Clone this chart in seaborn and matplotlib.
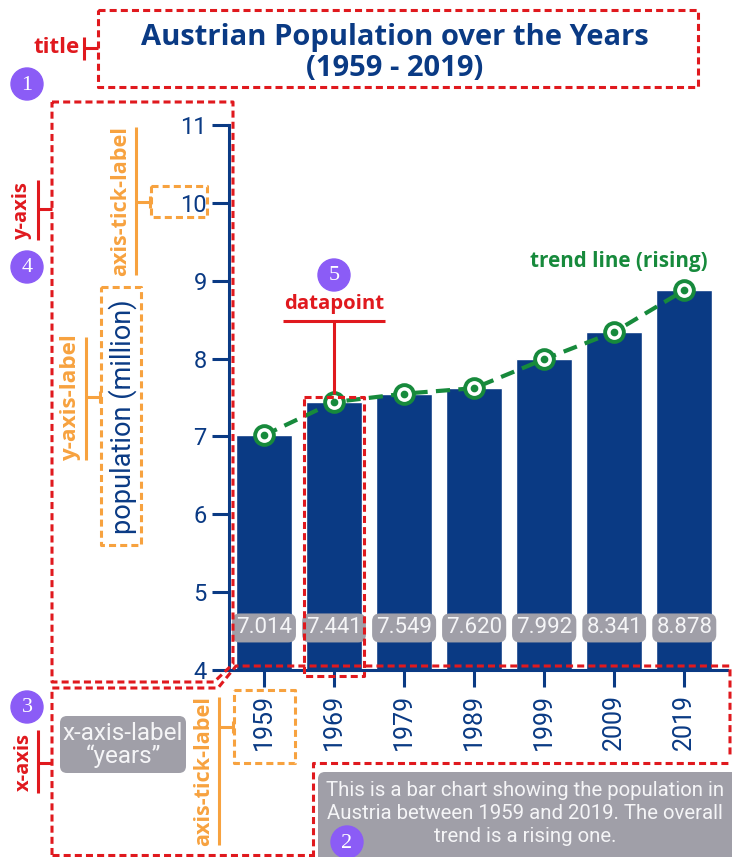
import numpy as np
import pandas as pd
import matplotlib
matplotlib.use("Agg")
import matplotlib.pyplot as plt
import seaborn as sns
from matplotlib.patches import FancyBboxPatch, Circle

# ---------------- data ----------------
years = ["1959", "1969", "1979", "1989", "1999", "2009", "2019"]
population = [7.014, 7.441, 7.549, 7.620, 7.992, 8.341, 8.878]
value_labels = ["7.014", "7.441", "7.549", "7.620", "7.992", "8.341", "8.878"]
y_ticks = [4, 5, 6, 7, 8, 9, 10, 11]

title = "Austrian Population over the Years\n(1959 - 2019)"
y_label = "population (million)"
x_label_box = "x-axis-label\n\u201cyears\u201d"
description_lines = ["This is a bar chart showing the population in",
                     "Austria between 1959 and 2019. The overall",
                     "trend is a rising one."]

NAVY = "#0a3a84"
RED = "#e0191e"
ORANGE = "#f7a23f"
GREEN = "#178a3c"
GRAY = "#a09fa8"
PURPLE = "#8b5cf6"
LIGHT = "#f5f5f7"
HEAD_FONT = ["Open Sans", "DejaVu Sans"]

sns.set_theme(style="white")
plt.rcParams['font.family'] = ['Roboto', 'DejaVu Sans']

W, H = 732, 857
fig = plt.figure(figsize=(W / 100, H / 100), dpi=100)
ax = fig.add_axes([229 / W, 1 - 670 / H, (727 - 229) / W, (670 - 125) / H])

df = pd.DataFrame({"year": years, "population": population})
sns.barplot(data=df, x="year", y="population", color=NAVY, saturation=1,
            width=0.8, ax=ax)
n0 = len(ax.lines)
sns.pointplot(data=df, x="year", y="population", color=GREEN, errorbar=None, ax=ax)
for ln in ax.lines[n0:]:
    ln.set_linewidth(3.0)
    ln.set_dashes([3.4, 2.0])
    ln.set_marker("o")
    ln.set_markersize(13.5)
    ln.set_markerfacecolor("white")
    ln.set_markeredgecolor(GREEN)
    ln.set_markeredgewidth(2.8)
    ln.set_zorder(4)
n1 = len(ax.lines)
sns.pointplot(data=df, x="year", y="population", color=GREEN, errorbar=None, ax=ax)
for ln in ax.lines[n1:]:
    ln.set_linestyle("None")
    ln.set_marker("o")
    ln.set_markersize(3.5)
    ln.set_zorder(5)

for i, lab in enumerate(value_labels):
    ax.text(i, 4.54, lab, ha="center", va="center", color=LIGHT, fontsize=16,
            bbox=dict(boxstyle="round,pad=0.18,rounding_size=0.35", fc=GRAY, ec="none"),
            zorder=6)

ax.set_ylim(4, 11)
ax.set_xlim(-0.5, 6.61)
ax.set_yticks(y_ticks)
sns.despine(ax=ax)
for s in ["left", "bottom"]:
    ax.spines[s].set_color(NAVY)
    ax.spines[s].set_linewidth(2.2)
ax.tick_params(axis="both", colors=NAVY, length=12, width=2.2, labelsize=17,
               direction="out", bottom=True, left=True, pad=4)
ax.tick_params(axis="x", labelrotation=90, labelsize=18, pad=5)
ax.set_xlabel("")
ax.set_ylabel(y_label, fontsize=19.5, color=NAVY)
ax.yaxis.set_label_coords(-0.185, 0.465)

fig.text(395 / W, 1 - 53 / H, title, ha="center", va="center", fontsize=21,
         fontweight="bold", color=NAVY, family=HEAD_FONT, linespacing=1.05)

# ---------------- annotation overlay (pixel coordinates) ----------------
ov = fig.add_axes([0, 0, 1, 1], zorder=5)
ov.set_xlim(0, W)
ov.set_ylim(H, 0)
ov.axis("off")

LW = 2.2


def dashed(xs, ys, color=RED):
    ov.plot(xs, ys, color=color, lw=LW, dashes=(2.3, 1.35))


def rect(x0, y0, x1, y1, color=RED):
    dashed([x0, x1, x1, x0, x0], [y0, y0, y1, y1, y0], color)


def solid(xs, ys, color=RED):
    ov.plot(xs, ys, color=color, lw=LW, solid_capstyle="butt")


def badge(x, y, s):
    ov.add_patch(Circle((x, y), 16, color=PURPLE, zorder=7))
    ov.text(x, y + 1, s, ha="center", va="center", color="white", fontsize=16,
            family="Liberation Serif", zorder=8)


def label(x, y, s, color, rot=0, size=15):
    ov.text(x, y, s, ha="center", va="center", color=color, fontsize=size,
            fontweight="bold", family=HEAD_FONT, rotation=rot)


# title
rect(98, 10, 698, 87)
label(57, 47, "title", RED, size=16)
solid([84, 84], [37, 60])
solid([84, 98], [48, 48])
badge(27, 84, "1")

# y-axis
dashed([52, 233, 233, 214, 52, 52], [102, 102, 664, 682, 682, 102])
label(22, 210, "y-axis", RED, rot=90, size=14.5)
solid([38, 38], [180, 240])
solid([38, 52], [209, 209])
badge(27, 267, "4")

# y axis tick label
label(121, 201, "axis-tick-label", ORANGE, rot=90, size=15.6)
solid([136, 136], [127, 275], ORANGE)
solid([136, 150], [202, 202], ORANGE)
solid([150, 150], [196, 208], ORANGE)
rect(151, 186, 207, 217, ORANGE)

# y axis label
label(71, 398, "y-axis-label", ORANGE, rot=90, size=16.2)
solid([86, 86], [337, 460], ORANGE)
solid([86, 100], [397, 397], ORANGE)
solid([100, 100], [391, 403], ORANGE)
rect(101, 287, 141, 545, ORANGE)

# x-axis
dashed([52, 52, 218, 236, 730, 730], [855, 688, 688, 666, 666, 757])
dashed([52, 313], [855, 855])
dashed([313, 313, 732], [857, 763, 763])
label(24, 762, "x-axis", RED, rot=90, size=14.5)
solid([38, 38], [730, 793])
solid([38, 52], [763, 763])
badge(27, 707, "3")

ov.add_patch(FancyBboxPatch((60, 716), 126, 57, boxstyle="round,pad=0,rounding_size=7",
                            fc=GRAY, ec="none"))
ov.text(123, 745, x_label_box, ha="center", va="center", color=LIGHT, fontsize=17.5,
        linespacing=1.0)

# x axis tick label
label(204, 771, "axis-tick-label", ORANGE, rot=90, size=15.6)
solid([219, 219], [697, 845], ORANGE)
solid([219, 233], [727, 727], ORANGE)
solid([233, 233], [721, 733], ORANGE)
rect(234, 690, 295, 763, ORANGE)

# datapoint
rect(304, 397, 364, 676)
label(334, 304, "datapoint", RED, size=14.7)
solid([283, 385], [321, 321])
solid([334, 334], [321, 394])
badge(334, 275, "5")

# trend line
label(619, 262, "trend line (rising)", GREEN, size=14.9)

# description
ov.add_patch(FancyBboxPatch((318, 772), 420, 95, boxstyle="round,pad=0,rounding_size=7",
                            fc=GRAY, ec="none"))
for k, line in enumerate(description_lines):
    ov.text(525, 790 + 23.5 * k, line, ha="center", va="center", color=LIGHT,
            fontsize=14.7)
badge(347, 842, "2")

fig.savefig("out.png", dpi=100)
